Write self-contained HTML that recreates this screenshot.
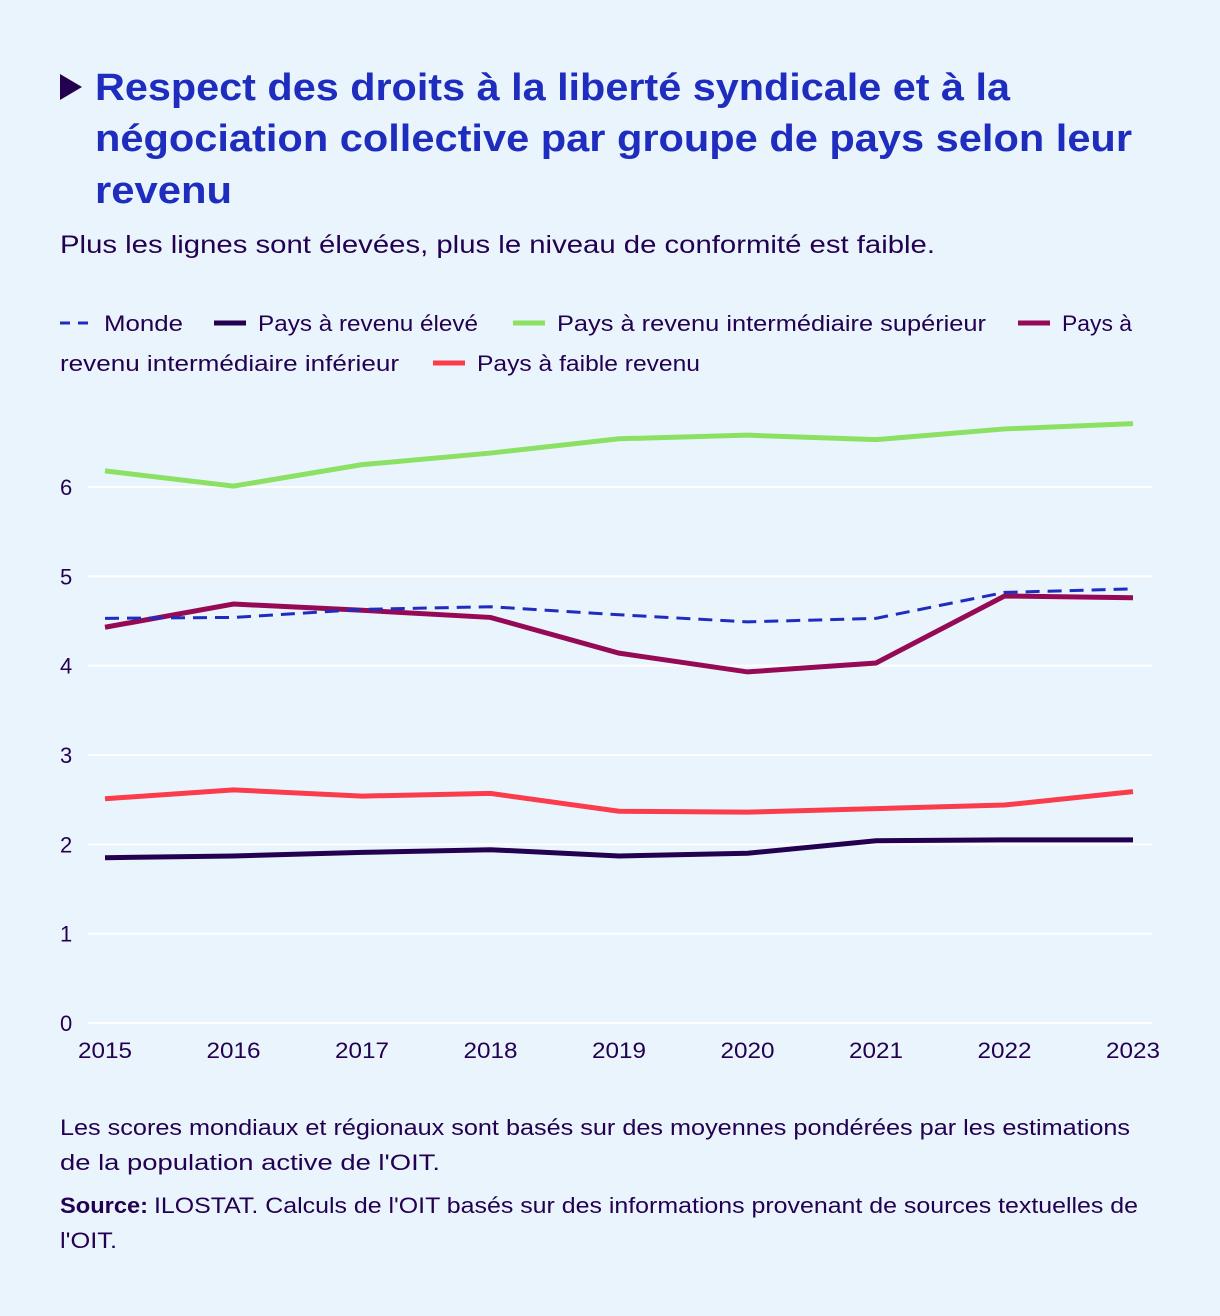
<!DOCTYPE html>
<html><head><meta charset="utf-8"><style>
body{margin:0;background:#eaf4fd;width:1220px;height:1316px;overflow:hidden;font-family:"Liberation Sans","DejaVu Sans",sans-serif;color:#230050}
#tri{position:absolute;left:60px;top:74px;width:0;height:0;border-top:13px solid transparent;border-bottom:13px solid transparent;border-left:22px solid #230050}
</style></head><body>
<div id="tri"></div>
<svg id="chart" width="1220" height="1316" style="position:absolute;left:0;top:0" font-family="Liberation Sans, DejaVu Sans, sans-serif">
<g font-size="38" font-weight="bold" fill="#1e2dbe">
<text x="95" y="100" textLength="915" lengthAdjust="spacingAndGlyphs">Respect des droits à la liberté syndicale et à la</text>
<text x="95" y="151" textLength="1037" lengthAdjust="spacingAndGlyphs">négociation collective par groupe de pays selon leur</text>
<text x="95" y="203" textLength="137" lengthAdjust="spacingAndGlyphs">revenu</text>
</g>
<text x="60" y="253" font-size="25" fill="#230050" textLength="875" lengthAdjust="spacingAndGlyphs">Plus les lignes sont élevées, plus le niveau de conformité est faible.</text>
<g font-size="22" fill="#230050">
<text x="60" y="1135" textLength="1070" lengthAdjust="spacingAndGlyphs">Les scores mondiaux et régionaux sont basés sur des moyennes pondérées par les estimations</text>
<text x="60" y="1170" textLength="380" lengthAdjust="spacingAndGlyphs">de la population active de l'OIT.</text>
</g>
<g font-size="22" fill="#230050">
<text x="60" y="1213" font-weight="bold" textLength="88" lengthAdjust="spacingAndGlyphs">Source:</text>
<text x="154" y="1213" textLength="984" lengthAdjust="spacingAndGlyphs">ILOSTAT. Calculs de l'OIT basés sur des informations provenant de sources textuelles de</text>
<text x="60" y="1248" textLength="57" lengthAdjust="spacingAndGlyphs">l'OIT.</text>
</g>
</svg>
<script>
const years=[2015,2016,2017,2018,2019,2020,2021,2022,2023];
const yTicks=[0,1,2,3,4,5,6];
const monde=[4.53,4.54,4.63,4.66,4.57,4.49,4.53,4.82,4.86];
const eleve=[1.85,1.87,1.91,1.94,1.87,1.90,2.04,2.05,2.05];
const superieur=[6.18,6.01,6.25,6.38,6.54,6.58,6.53,6.65,6.71];
const inferieur=[4.43,4.69,4.62,4.54,4.14,3.93,4.03,4.78,4.76];
const faible=[2.51,2.61,2.54,2.57,2.37,2.36,2.40,2.44,2.59];
const NS="http://www.w3.org/2000/svg";
const svg=document.getElementById('chart');
const x=i=>105+i*(1133-105)/(years.length-1);
const y=v=>1023-v*(1023-487)/6;
function mk(t,a){const e=document.createElementNS(NS,t);for(const k in a)e.setAttribute(k,a[k]);svg.appendChild(e);return e;}
yTicks.forEach(t=>{
 const l=mk('line',{x1:88,x2:1152,y1:y(t),y2:y(t),stroke:'#fff','stroke-width':2});
 
 
 const tx=mk('text',{x:60,y:y(t)+8,'font-size':22,fill:'#230050'});tx.textContent=t;
 
 
});
years.forEach((yr,i)=>{
 const tx=mk('text',{x:x(i),y:1058,'font-size':22,fill:'#230050','text-anchor':'middle',textLength:54,lengthAdjust:'spacingAndGlyphs'});tx.textContent=yr;
 
 
});
const series=[
 [superieur,'#8ce164','',"line-pays-revenu-intermediaire-superieur"],
 [faible,'#fa3c4b','',"line-pays-faible-revenu"],
 [eleve,'#230050','',"line-pays-revenu-eleve"],
 [inferieur,'#960a55','',"line-pays-revenu-intermediaire-inferieur"],
 [monde,'#1e2dbe','14 8',"line-monde"]];
series.forEach(s=>{
 const p=mk('polyline',{points:s[0].map((v,i)=>x(i)+','+y(v)).join(' '),fill:'none',stroke:s[1],'stroke-width':s[2]?3:5,'stroke-dasharray':s[2]});
 
 
});
const leg=[
 [60,323,'#1e2dbe','Monde',1,79],[214,323,'#230050','Pays à revenu élevé',0,220],
 [513,323,'#8ce164','Pays à revenu intermédiaire supérieur',0,429],
 [1018,323,'#960a55','Pays à',0,70],[433,363,'#fa3c4b','Pays à faible revenu',0,223]];
leg.forEach(l=>{
 const ln=mk('line',{x1:l[0],x2:l[0]+32,y1:l[1],y2:l[1],stroke:l[2],'stroke-width':l[4]?3:5,'stroke-dasharray':l[4]?'10 8':''});
 
 
 const t=mk('text',{x:l[0]+44,y:l[1]+8,'font-size':22,fill:'#230050',textLength:l[5],lengthAdjust:'spacingAndGlyphs'});t.textContent=l[3];
 
 
});
const t2=mk('text',{x:60,y:371,'font-size':22,fill:'#230050',textLength:339,lengthAdjust:'spacingAndGlyphs'});t2.textContent='revenu intermédiaire inférieur';


</script>
</body></html>
